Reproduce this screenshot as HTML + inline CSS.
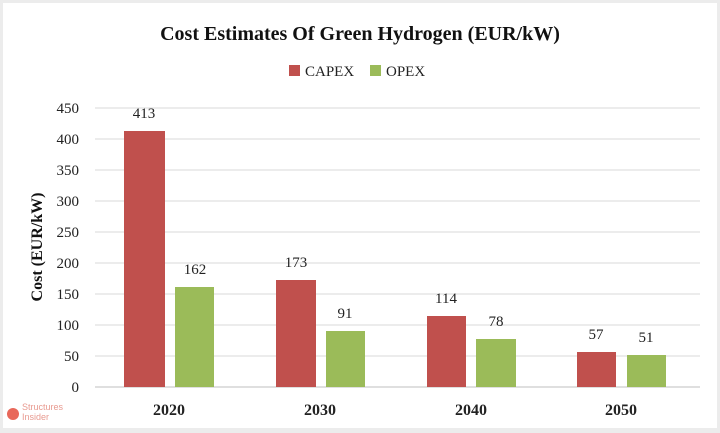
<!DOCTYPE html>
<html><head><meta charset="utf-8"><style>
html,body{margin:0;padding:0;background:#eeeeee;}
svg{display:block;font-family:"Liberation Serif",serif;}
</style></head><body>
<svg width="720" height="433" viewBox="0 0 720 433" xmlns="http://www.w3.org/2000/svg">
<rect x="0" y="0" width="720" height="433" fill="#ececec"/>
<rect x="3" y="3" width="714" height="425" fill="#ffffff"/>
<text x="360" y="40" text-anchor="middle" font-size="20" font-weight="bold" fill="#111">Cost Estimates Of Green Hydrogen (EUR/kW)</text>
<rect x="289" y="65" width="11" height="11" fill="#c0504d"/>
<text x="305" y="76" font-size="15" fill="#222">CAPEX</text>
<rect x="370" y="65" width="11" height="11" fill="#9bbb59"/>
<text x="386" y="76" font-size="15" fill="#222">OPEX</text>
<g stroke="#d9d9d9" stroke-width="1">
<line x1="95" y1="108" x2="700" y2="108"/><line x1="95" y1="139" x2="700" y2="139"/>
<line x1="95" y1="170" x2="700" y2="170"/><line x1="95" y1="201" x2="700" y2="201"/>
<line x1="95" y1="232" x2="700" y2="232"/><line x1="95" y1="263" x2="700" y2="263"/>
<line x1="95" y1="294" x2="700" y2="294"/><line x1="95" y1="325" x2="700" y2="325"/>
<line x1="95" y1="356" x2="700" y2="356"/>
</g>
<line x1="95" y1="387" x2="700" y2="387" stroke="#bfbfbf"/>
<g font-size="15" fill="#222" text-anchor="end">
<text x="79" y="113">450</text><text x="79" y="144">400</text><text x="79" y="175">350</text>
<text x="79" y="206">300</text><text x="79" y="237">250</text><text x="79" y="268">200</text>
<text x="79" y="299">150</text><text x="79" y="330">100</text><text x="79" y="361">50</text>
<text x="79" y="392">0</text>
</g>
<text transform="translate(42,247) rotate(-90)" text-anchor="middle" font-size="16" font-weight="bold" fill="#111">Cost (EUR/kW)</text>
<g fill="#c0504d">
<rect x="124" y="131" width="41" height="256"/>
<rect x="276" y="280" width="40" height="107"/>
<rect x="427" y="316" width="39" height="71"/>
<rect x="577" y="352" width="39" height="35"/>
</g>
<g fill="#9bbb59">
<rect x="175" y="287" width="39" height="100"/>
<rect x="326" y="331" width="39" height="56"/>
<rect x="476" y="339" width="40" height="48"/>
<rect x="627" y="355" width="39" height="32"/>
</g>
<g font-size="15" fill="#222" text-anchor="middle">
<text x="144" y="118">413</text><text x="195" y="274">162</text>
<text x="296" y="267">173</text><text x="345" y="318">91</text>
<text x="446" y="303">114</text><text x="496" y="326">78</text>
<text x="596" y="339">57</text><text x="646" y="342">51</text>
</g>
<g font-size="16" font-weight="bold" fill="#222" text-anchor="middle">
<text x="169" y="415">2020</text><text x="320" y="415">2030</text>
<text x="471" y="415">2040</text><text x="621" y="415">2050</text>
</g>
<circle cx="13" cy="414" r="6" fill="#e8685a"/>
<text x="22" y="410" font-family="Liberation Sans,sans-serif" font-size="9" fill="#e89a90">Structures</text>
<text x="22" y="420" font-family="Liberation Sans,sans-serif" font-size="9" fill="#e89a90">Insider</text>
</svg>
</body></html>
